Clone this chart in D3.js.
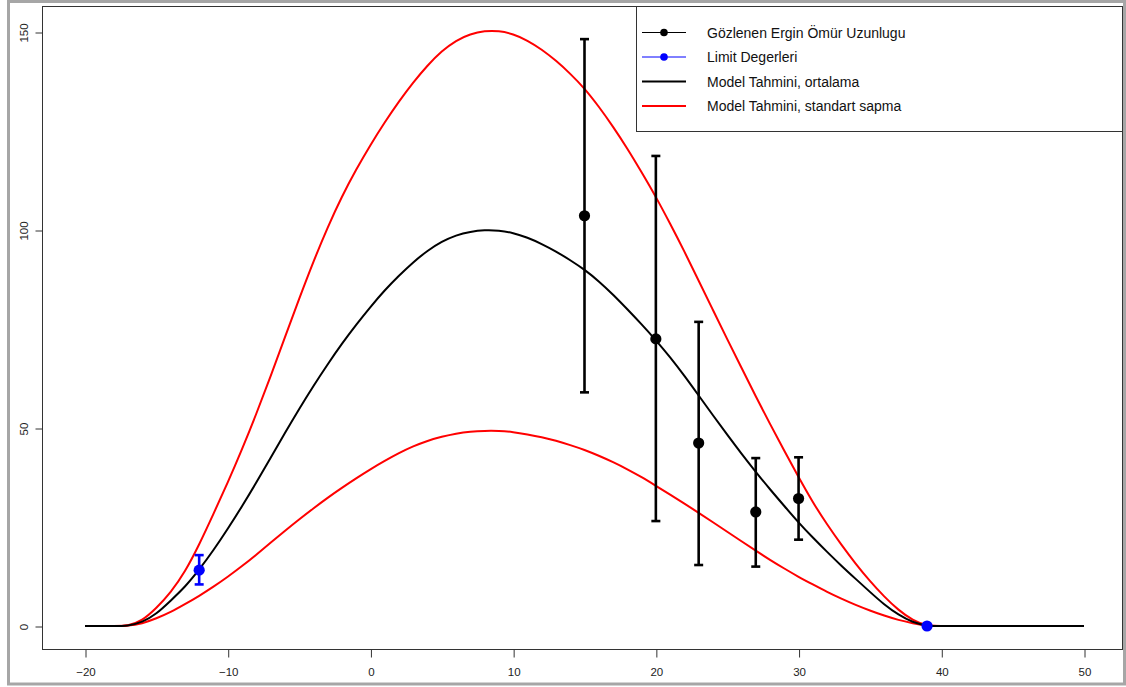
<!DOCTYPE html>
<html>
<head>
<meta charset="utf-8">
<script src="https://cdn.jsdelivr.net/npm/d3@7"></script>
<style>
  html, body { margin: 0; padding: 0; background: #ffffff; }
  svg { display: block; font-family: "Liberation Sans", Arial, sans-serif; }
</style>
</head>
<body>
<svg id="chart" width="1126" height="687"></svg>
<script>
// ---------------- data ----------------
const xTicks = [-20, -10, 0, 10, 20, 30, 40, 50];
const yTicks = [0, 50, 100, 150];

const curveX = [-20, -19, -18, -17, -16, -15, -14, -13, -12, -11, -10, -9, -8, -7, -6, -5, -4, -3, -2, -1,
  0, 1, 2, 3, 4, 5, 6, 7, 8, 9, 10, 11, 12, 13, 14, 15, 16, 17, 18, 19,
  20, 21, 22, 23, 24, 25, 26, 27, 28, 29, 30, 31, 32, 33, 34, 35, 36, 37, 38, 39, 40, 41, 50];

const meanVals = [0, 0, 0, 0, 0.9, 3.0, 6.4, 9.8, 14.2, 19.1, 24.5, 30.2, 36.2, 42.4, 48.7, 54.8, 60.6, 66.1, 71.3, 76.1,
  80.6, 84.8, 88.5, 91.9, 94.8, 97.1, 98.7, 99.6, 100.0, 99.9, 99.3, 98.1, 96.5, 94.6, 92.4, 90.0, 87.1, 83.7, 80.0, 76.2,
  72.2, 67.9, 63.2, 58.2, 53.2, 48.3, 43.5, 38.9, 34.5, 30.3, 26.1, 22.3, 18.7, 15.2, 11.9, 8.6, 5.4, 2.8, 0.9, 0, 0, 0, 0];

const upperVals = [0, 0, 0, 0, 1.3, 4.5, 8.4, 13.6, 20.5, 28.3, 36.2, 44.6, 53.5, 63.0, 72.8, 82.6, 92.0, 100.7, 108.5, 115.3,
  121.5, 127.2, 132.5, 137.3, 141.6, 145.2, 147.9, 149.5, 150.3, 150.3, 149.5, 147.9, 145.6, 142.8, 139.5, 135.8, 131.2, 126.1, 120.6, 114.6,
  108.4, 101.6, 94.6, 87.2, 79.8, 72.4, 65.2, 58.0, 51.0, 44.2, 37.6, 31.2, 25.6, 20.5, 15.7, 11.3, 7.4, 4.0, 1.4, 0, 0, 0, 0];

const lowerVals = [0, 0, 0, 0, 0.6, 1.9, 3.5, 5.5, 7.6, 9.9, 12.4, 15.1, 18.0, 21.0, 24.0, 26.9, 29.7, 32.4, 34.9, 37.3,
  39.6, 41.7, 43.7, 45.4, 46.8, 47.8, 48.6, 49.1, 49.3, 49.3, 49.0, 48.4, 47.7, 46.8, 45.7, 44.5, 43.0, 41.4, 39.6, 37.6,
  35.4, 33.2, 30.9, 28.6, 26.2, 23.8, 21.4, 19.0, 16.7, 14.5, 12.4, 10.5, 8.6, 6.9, 5.3, 3.9, 2.6, 1.5, 0.7, 0, 0, 0, 0];

// observed adult lifespan (black)
const obsX    = [15, 20, 23, 27, 30];
const obsMean = [103.6, 72.5, 46.2, 28.8, 32.2];
const obsLow  = [59.0, 26.5, 15.4, 15.0, 21.8];
const obsHigh = [148.2, 118.7, 76.8, 42.4, 42.6];

// limit values (blue)
const limX    = [-12, 39];
const limMean = [14.1, 0];
const limLow  = [10.5, null];
const limHigh = [17.9, null];

const legendLabels = ["Gözlenen Ergin Ömür Uzunlugu", "Limit Degerleri",
  "Model Tahmini, ortalama", "Model Tahmini, standart sapma"];

// ---------------- layout ----------------
const svg = d3.select("#chart");
const frame = { left: 42, right: 1122, top: 6, bottom: 649 };

const x = d3.scaleLinear().domain([-20, 50]).range([85, 1084]);
const y = d3.scaleLinear().domain([0, 150]).range([626, 32]);

// outer grey border (screenshot frame)
svg.append("rect").attr("x", 8.5).attr("y", 1.5).attr("width", 1116).attr("height", 682.5)
  .attr("fill", "none").attr("stroke", "#a6a6a6").attr("stroke-width", 3);

// plot frame
svg.append("rect").attr("x", frame.left + 0.5).attr("y", frame.top + 0.5)
  .attr("width", frame.right - frame.left).attr("height", frame.bottom - frame.top)
  .attr("fill", "none").attr("stroke", "#333").attr("stroke-width", 1);

// axes
const xAxis = d3.axisBottom(x).tickValues(xTicks).tickSize(8).tickPadding(10).tickFormat(d3.format("d"));
const gx = svg.append("g").attr("transform", `translate(0.5,${frame.bottom + 0.5})`).call(xAxis);
gx.select(".domain").remove();
gx.selectAll("line").attr("stroke", "#333");
gx.selectAll("text").attr("font-size", 11.5).attr("fill", "#222")
  .attr("font-family", "'Liberation Sans', Arial, sans-serif");

const yAxis = d3.axisLeft(y).tickValues(yTicks).tickSize(7).tickFormat(d3.format("d"));
const gy = svg.append("g").attr("transform", `translate(${frame.left + 0.5},0.5)`).call(yAxis);
gy.select(".domain").remove();
gy.selectAll("line").attr("stroke", "#333");
gy.selectAll("text").attr("font-size", 11.5).attr("fill", "#222")
  .attr("font-family", "'Liberation Sans', Arial, sans-serif")
  .attr("text-anchor", "middle").attr("x", null).attr("dy", null)
  .attr("transform", "translate(-15,0) rotate(-90)");

// curves
const line = vals => d3.line()
  .x((d, i) => x(curveX[i]))
  .y((d, i) => y(vals[i]))
  .curve(d3.curveBasis)(vals);

const plot = svg.append("g");
plot.append("path").attr("d", line(upperVals)).attr("fill", "none").attr("stroke", "#ff0000").attr("stroke-width", 2);
plot.append("path").attr("d", line(lowerVals)).attr("fill", "none").attr("stroke", "#ff0000").attr("stroke-width", 2);
plot.append("path").attr("d", line(meanVals)).attr("fill", "none").attr("stroke", "#000000").attr("stroke-width", 2);

// error bars + points
function drawBars(xs, lo, hi, color) {
  xs.forEach((xv, i) => {
    if (lo[i] == null) return;
    const g = plot.append("g").attr("stroke", color).attr("stroke-width", 2.6);
    g.append("line").attr("x1", x(xv)).attr("x2", x(xv)).attr("y1", y(lo[i])).attr("y2", y(hi[i]));
    g.append("line").attr("x1", x(xv) - 4.5).attr("x2", x(xv) + 4.5).attr("y1", y(lo[i])).attr("y2", y(lo[i]));
    g.append("line").attr("x1", x(xv) - 4.5).attr("x2", x(xv) + 4.5).attr("y1", y(hi[i])).attr("y2", y(hi[i]));
  });
}
drawBars(obsX, obsLow, obsHigh, "#000000");
drawBars(limX, limLow, limHigh, "#0000ff");

plot.selectAll("circle.obs").data(obsX).enter().append("circle").attr("class", "obs")
  .attr("cx", d => x(d)).attr("cy", (d, i) => y(obsMean[i])).attr("r", 5.6).attr("fill", "#000");
plot.selectAll("circle.lim").data(limX).enter().append("circle").attr("class", "lim")
  .attr("cx", d => x(d)).attr("cy", (d, i) => y(limMean[i])).attr("r", 5.6).attr("fill", "#0000ff");

// legend
const lg = svg.append("g");
lg.append("rect").attr("x", 636.5).attr("y", frame.top + 0.5).attr("width", frame.right - 636)
  .attr("height", 125).attr("fill", "#fff").attr("stroke", "#333").attr("stroke-width", 1);
const rowY = [32.5, 57, 81.5, 106];
const legColor = ["#000000", "#0000ff", "#000000", "#ff0000"];
const legWidth = [1, 1, 2.2, 2.2];
const legPoint = [true, true, false, false];
legendLabels.forEach((lab, i) => {
  lg.append("line").attr("x1", 642).attr("x2", 686).attr("y1", rowY[i]).attr("y2", rowY[i])
    .attr("stroke", legColor[i]).attr("stroke-width", legWidth[i]);
  if (legPoint[i]) lg.append("circle").attr("cx", 664).attr("cy", rowY[i]).attr("r", 3.8).attr("fill", legColor[i]);
  lg.append("text").attr("x", 707).attr("y", rowY[i] + 5).attr("font-size", 14).attr("fill", "#111").text(lab);
});
</script>
</body>
</html>
